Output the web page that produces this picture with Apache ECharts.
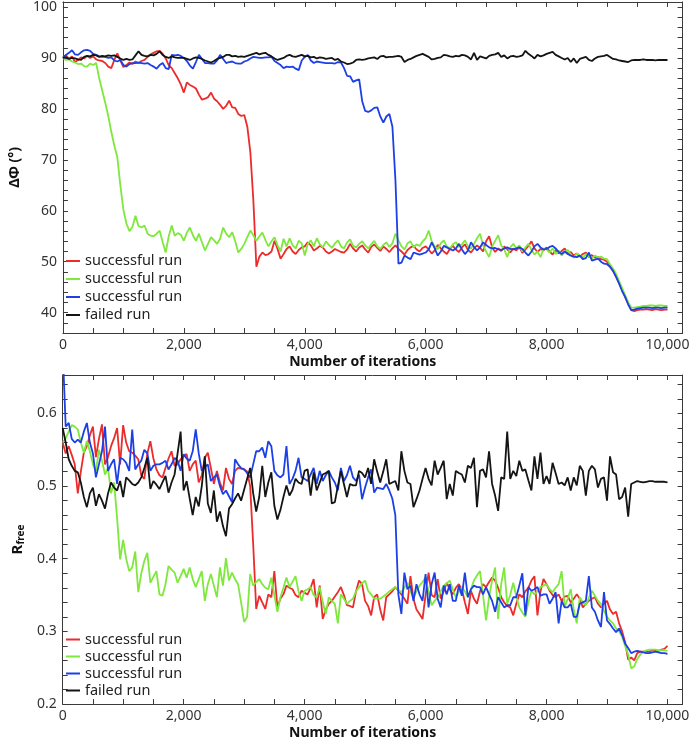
<!DOCTYPE html>
<html>
<head>
<meta charset="utf-8">
<script src="https://cdn.jsdelivr.net/npm/echarts@6/dist/echarts.min.js"></script>
<style>
    html, body { margin: 0; padding: 0; background: #fff; }
    #chart { width: 692px; height: 741px; }
</style>
</head>
<body>
<div id="chart"></div>
<script>
// iterations run 0..10000, one sample every 50 iterations
const STEP = 50;

// top panel: delta phi (deg)
const phiRed = [
    90.2,90.5,89.8,90.3,89.2,89.6,90.1,89.9,90.4,90.0,
    90.3,89.7,89.5,89.4,89.0,88.3,88.0,89.6,90.9,89.5,
    88.2,88.6,89.1,88.8,89.3,89.0,89.4,89.6,90.2,90.7,
    91.0,91.3,91.4,90.8,89.9,88.6,88.0,87.0,86.0,84.8,
    83.2,85.2,84.7,84.4,84.0,82.8,81.8,82.0,82.3,83.2,
    82.0,81.5,80.8,80.0,80.6,81.6,80.3,80.2,79.0,78.6,
    78.8,76.5,71.5,62.0,49.0,51.0,51.8,51.3,51.5,52.0,
    54.1,52.5,50.6,51.5,52.5,53.0,52.0,51.5,52.3,52.8,
    53.0,53.8,53.2,52.2,52.6,53.1,52.8,52.0,51.6,52.0,
    52.5,52.2,51.9,51.8,52.4,53.5,52.6,52.0,52.8,53.2,
    52.4,51.8,52.9,53.4,52.7,52.1,53.0,52.5,51.9,52.6,
    53.2,52.5,52.0,51.4,52.3,52.8,53.1,52.4,52.0,52.7,
    53.0,52.4,51.6,52.2,53.3,52.6,52.0,51.5,52.5,53.1,
    52.4,51.9,52.8,53.4,52.3,51.8,52.6,53.2,52.7,52.0,
    54.0,55.0,52.8,51.9,52.6,52.1,53.0,52.4,51.8,52.6,
    52.2,52.9,51.7,52.4,53.1,54.0,52.6,51.9,52.5,52.2,
    52.8,52.0,51.4,52.3,51.6,52.1,52.6,51.5,51.9,51.2,
    51.6,51.0,51.5,51.8,50.9,51.3,50.8,50.9,50.5,50.4,
    50.0,49.0,48.2,47.0,45.8,44.5,43.0,41.8,40.5,40.3,
    40.5,40.6,40.6,40.7,40.6,40.5,40.7,40.6,40.5,40.6,
    40.6
];
const phiGreen = [
    90.0,89.6,89.7,89.3,89.1,88.8,88.9,88.4,88.3,88.9,
    88.6,89.0,86.0,83.6,81.2,78.6,75.5,72.8,70.5,65.0,
    60.2,57.5,56.0,56.8,59.0,57.0,56.7,57.1,55.5,55.1,
    55.0,55.5,56.1,53.8,51.8,55.0,57.1,55.1,55.6,55.3,
    54.1,55.7,56.7,55.2,54.1,55.5,53.8,52.2,53.5,54.8,
    54.2,53.5,54.5,56.7,55.5,54.8,55.8,54.0,51.8,52.5,
    53.5,54.8,56.1,55.2,54.1,55.0,55.7,54.2,53.0,54.0,
    54.8,53.2,52.0,54.5,53.0,54.6,53.2,52.6,54.1,53.6,
    51.2,53.5,54.2,53.0,54.6,53.4,52.8,54.0,53.3,52.7,
    53.6,54.2,53.0,52.6,53.8,54.4,53.1,52.8,53.5,54.0,
    53.2,52.6,53.4,54.1,53.0,52.5,53.3,53.8,52.9,53.6,
    55.5,54.2,53.0,52.4,53.6,54.0,52.8,53.4,53.1,54.0,
    54.6,56.1,54.0,53.0,52.5,53.6,54.2,53.0,52.6,53.4,
    53.8,52.9,53.4,54.2,53.0,52.6,53.5,54.6,55.5,53.2,
    52.0,50.9,53.0,54.1,55.2,53.2,52.4,50.9,52.8,53.5,
    52.6,53.2,52.0,52.8,53.5,52.3,51.4,52.0,50.9,52.6,
    52.4,51.8,52.6,51.5,52.2,51.2,51.9,52.3,51.4,50.8,
    51.6,51.2,50.8,51.5,51.0,50.6,51.2,50.8,51.0,50.6,
    50.5,49.5,48.6,47.6,46.2,44.8,43.4,42.0,41.0,41.0,
    41.1,41.2,41.3,41.3,41.4,41.4,41.3,41.4,41.4,41.3,
    41.3
];
const phiBlue = [
    90.0,90.6,91.0,91.5,90.7,90.6,91.1,91.5,91.6,91.4,
    90.8,90.6,90.3,90.2,90.2,90.0,90.1,89.5,89.3,89.6,
    88.6,88.3,88.8,89.0,89.0,89.1,89.0,88.9,89.0,88.6,
    88.3,87.9,88.6,89.0,88.0,87.8,90.6,90.5,90.6,90.4,
    90.0,89.4,88.5,87.9,89.2,90.6,89.8,89.0,89.0,88.9,
    88.9,89.5,90.6,89.8,89.0,89.2,89.3,89.0,88.9,88.9,
    89.3,89.5,89.9,90.2,90.1,90.0,90.0,90.1,90.1,90.2,
    89.4,89.0,88.6,88.0,88.3,88.2,88.3,87.9,87.6,89.5,
    90.2,90.6,89.5,89.0,89.3,89.2,89.1,89.0,89.0,89.0,
    88.9,89.2,89.1,88.0,86.5,86.4,85.3,85.6,85.8,81.5,
    79.6,79.4,79.7,80.2,80.3,78.5,77.3,78.5,79.0,76.5,
    66.0,49.6,49.8,51.2,50.8,50.5,51.8,51.6,51.4,51.6,
    51.8,52.4,53.8,52.6,51.2,52.0,53.1,52.8,52.5,52.2,
    52.6,53.5,52.4,51.5,52.2,53.8,52.9,52.2,52.8,53.8,
    53.3,52.8,52.6,52.7,52.4,52.3,52.6,52.8,52.5,52.4,
    52.6,52.8,52.5,51.8,51.2,52.0,53.0,53.5,52.8,52.4,
    52.5,52.9,53.1,52.6,51.9,51.5,52.0,51.5,51.2,51.0,
    50.9,51.2,50.5,50.7,51.8,50.2,50.4,50.6,50.0,49.6,
    49.5,49.0,48.2,47.0,45.7,44.2,43.1,41.6,40.5,40.6,
    40.8,40.9,41.0,41.0,41.0,40.9,41.0,41.0,40.9,41.0,
    41.0
];
const phiBlack = [
    90.0,90.1,89.8,90.0,89.9,89.7,89.6,90.2,90.4,90.3,
    90.6,90.5,90.2,90.4,90.3,90.5,90.4,90.5,90.2,89.9,
    89.6,89.8,89.6,89.7,90.5,91.3,90.6,90.4,90.3,90.6,
    90.5,90.8,91.3,90.6,90.2,90.0,90.3,90.1,90.0,90.0,
    90.0,89.8,89.6,89.9,90.1,90.0,89.8,89.5,89.3,89.1,
    89.4,89.8,90.0,90.2,90.6,90.6,90.3,90.4,90.2,90.3,
    90.2,90.4,90.6,90.8,91.0,90.7,90.9,91.0,90.6,90.3,
    89.9,89.6,89.8,90.0,90.4,90.6,90.3,90.2,90.4,90.6,
    90.3,90.4,90.1,90.2,89.9,90.1,90.0,89.8,89.9,90.0,
    89.6,89.8,89.3,89.1,88.8,88.9,89.1,89.6,89.7,89.6,
    89.7,89.9,90.0,90.1,89.8,90.3,90.4,90.1,90.2,90.2,
    90.3,90.4,90.2,89.2,89.6,89.8,90.1,90.4,90.6,90.8,
    90.5,90.2,89.7,89.8,90.0,90.1,90.6,90.5,90.3,90.2,
    90.4,90.3,90.6,90.5,90.2,89.7,91.0,89.6,90.3,90.1,
    89.9,90.4,90.6,90.7,91.0,90.2,90.5,89.9,90.3,90.4,
    90.2,90.3,90.5,91.4,90.8,90.4,89.9,90.6,90.3,90.5,
    90.8,91.0,91.2,90.6,90.3,90.0,89.7,90.0,89.2,89.9,
    89.0,89.8,90.0,90.2,89.6,89.4,89.9,90.2,90.3,90.4,
    90.6,90.2,89.8,89.7,89.5,89.4,89.3,89.2,89.5,89.6,
    89.6,89.6,89.7,89.6,89.6,89.6,89.5,89.6,89.6,89.6,
    89.6
];

// bottom panel: Rfree
const rRed = [
    0.560,0.545,0.555,0.543,0.530,0.490,0.520,0.546,0.555,0.570,
    0.582,0.540,0.565,0.585,0.530,0.540,0.555,0.566,0.580,0.530,
    0.584,0.560,0.548,0.546,0.542,0.537,0.515,0.510,0.545,0.562,
    0.538,0.523,0.515,0.512,0.525,0.538,0.548,0.528,0.530,0.537,
    0.542,0.544,0.521,0.530,0.535,0.505,0.515,0.539,0.546,0.525,
    0.503,0.521,0.505,0.494,0.525,0.510,0.503,0.521,0.525,0.524,
    0.523,0.520,0.500,0.420,0.331,0.349,0.340,0.331,0.351,0.347,
    0.383,0.333,0.345,0.351,0.363,0.360,0.358,0.350,0.347,0.356,
    0.353,0.351,0.360,0.372,0.333,0.363,0.317,0.330,0.338,0.342,
    0.348,0.354,0.361,0.350,0.336,0.335,0.333,0.355,0.370,0.365,
    0.342,0.335,0.322,0.347,0.351,0.330,0.315,0.347,0.351,0.355,
    0.361,0.356,0.351,0.345,0.338,0.376,0.345,0.330,0.324,0.317,
    0.350,0.381,0.350,0.347,0.372,0.345,0.355,0.367,0.358,0.351,
    0.360,0.365,0.358,0.340,0.324,0.356,0.345,0.338,0.355,0.365,
    0.361,0.368,0.374,0.370,0.360,0.347,0.340,0.335,0.333,0.322,
    0.338,0.351,0.347,0.355,0.360,0.370,0.376,0.322,0.355,0.372,
    0.365,0.356,0.350,0.347,0.351,0.342,0.348,0.349,0.340,0.345,
    0.351,0.345,0.333,0.338,0.342,0.345,0.347,0.338,0.333,0.338,
    0.342,0.330,0.324,0.327,0.311,0.300,0.285,0.261,0.264,0.260,
    0.270,0.272,0.272,0.272,0.272,0.274,0.274,0.273,0.275,0.276,
    0.280
];
const rGreen = [
    0.560,0.566,0.575,0.584,0.582,0.578,0.560,0.546,0.562,0.548,
    0.530,0.521,0.550,0.535,0.516,0.525,0.490,0.505,0.456,0.399,
    0.426,0.400,0.383,0.388,0.410,0.354,0.380,0.397,0.408,0.367,
    0.375,0.383,0.351,0.349,0.365,0.390,0.385,0.381,0.367,0.376,
    0.386,0.374,0.388,0.372,0.361,0.372,0.383,0.342,0.365,0.379,
    0.363,0.347,0.388,0.363,0.401,0.370,0.381,0.372,0.365,0.340,
    0.313,0.320,0.379,0.363,0.368,0.372,0.365,0.360,0.358,0.374,
    0.350,0.327,0.347,0.360,0.374,0.361,0.368,0.376,0.355,0.342,
    0.356,0.358,0.361,0.350,0.347,0.361,0.340,0.324,0.347,0.342,
    0.338,0.311,0.351,0.345,0.338,0.342,0.345,0.355,0.361,0.366,
    0.370,0.356,0.351,0.345,0.345,0.345,0.348,0.351,0.355,0.358,
    0.361,0.357,0.354,0.360,0.367,0.355,0.347,0.355,0.363,0.368,
    0.374,0.355,0.336,0.342,0.347,0.355,0.363,0.366,0.370,0.358,
    0.347,0.354,0.361,0.355,0.347,0.358,0.370,0.377,0.383,0.350,
    0.315,0.347,0.370,0.388,0.317,0.365,0.388,0.338,0.350,0.367,
    0.348,0.333,0.326,0.320,0.340,0.356,0.351,0.355,0.361,0.363,
    0.365,0.358,0.354,0.360,0.365,0.383,0.333,0.345,0.358,0.330,
    0.311,0.347,0.340,0.336,0.346,0.356,0.349,0.342,0.338,0.328,
    0.320,0.315,0.311,0.304,0.300,0.293,0.280,0.268,0.249,0.252,
    0.262,0.268,0.272,0.274,0.275,0.275,0.275,0.274,0.274,0.274,
    0.273
];
const rBlue = [
    0.690,0.582,0.587,0.565,0.560,0.564,0.560,0.575,0.587,0.560,
    0.545,0.512,0.530,0.548,0.582,0.521,0.530,0.537,0.503,0.539,
    0.537,0.532,0.521,0.578,0.523,0.530,0.535,0.550,0.545,0.521,
    0.528,0.530,0.530,0.532,0.535,0.523,0.530,0.539,0.535,0.521,
    0.544,0.538,0.535,0.548,0.578,0.545,0.521,0.526,0.530,0.507,
    0.512,0.516,0.500,0.489,0.494,0.486,0.478,0.537,0.530,0.525,
    0.523,0.518,0.512,0.530,0.548,0.548,0.553,0.539,0.562,0.555,
    0.521,0.515,0.512,0.516,0.555,0.503,0.510,0.521,0.539,0.512,
    0.510,0.507,0.516,0.525,0.503,0.521,0.507,0.515,0.521,0.512,
    0.505,0.494,0.525,0.507,0.515,0.528,0.512,0.507,0.516,0.482,
    0.498,0.512,0.523,0.491,0.498,0.497,0.496,0.503,0.494,0.483,
    0.460,0.351,0.324,0.381,0.358,0.363,0.342,0.365,0.351,0.342,
    0.379,0.333,0.365,0.381,0.345,0.333,0.363,0.351,0.365,0.342,
    0.342,0.363,0.349,0.381,0.347,0.358,0.363,0.361,0.361,0.351,
    0.361,0.351,0.342,0.327,0.347,0.340,0.333,0.336,0.336,0.347,
    0.347,0.363,0.380,0.322,0.361,0.356,0.358,0.361,0.349,0.351,
    0.351,0.338,0.345,0.354,0.311,0.342,0.333,0.333,0.338,0.320,
    0.320,0.338,0.340,0.342,0.376,0.333,0.327,0.315,0.306,0.354,
    0.315,0.310,0.304,0.299,0.304,0.295,0.283,0.277,0.270,0.272,
    0.273,0.272,0.271,0.270,0.270,0.271,0.272,0.271,0.270,0.270,
    0.269
];
const rBlack = [
    0.580,0.560,0.537,0.528,0.521,0.519,0.505,0.485,0.471,0.490,
    0.498,0.473,0.489,0.480,0.469,0.490,0.505,0.498,0.494,0.507,
    0.485,0.512,0.508,0.503,0.501,0.505,0.512,0.525,0.539,0.496,
    0.507,0.502,0.496,0.505,0.514,0.491,0.505,0.516,0.545,0.575,
    0.494,0.507,0.483,0.460,0.485,0.472,0.500,0.541,0.476,0.463,
    0.494,0.451,0.465,0.445,0.431,0.469,0.475,0.483,0.490,0.480,
    0.495,0.510,0.525,0.490,0.465,0.485,0.528,0.485,0.505,0.519,
    0.473,0.454,0.467,0.485,0.501,0.487,0.495,0.510,0.505,0.503,
    0.521,0.523,0.487,0.519,0.494,0.505,0.516,0.518,0.521,0.476,
    0.478,0.500,0.521,0.503,0.485,0.503,0.501,0.501,0.521,0.518,
    0.512,0.525,0.503,0.537,0.520,0.505,0.520,0.537,0.503,0.505,
    0.507,0.494,0.548,0.521,0.505,0.503,0.471,0.482,0.494,0.510,
    0.525,0.510,0.501,0.535,0.516,0.525,0.535,0.482,0.503,0.487,
    0.521,0.518,0.516,0.505,0.528,0.525,0.539,0.471,0.521,0.523,
    0.512,0.548,0.503,0.487,0.466,0.512,0.510,0.575,0.510,0.521,
    0.514,0.535,0.521,0.523,0.508,0.494,0.541,0.510,0.546,0.503,
    0.514,0.503,0.532,0.518,0.503,0.505,0.501,0.512,0.494,0.512,
    0.501,0.528,0.521,0.487,0.521,0.528,0.523,0.498,0.510,0.512,
    0.480,0.541,0.519,0.516,0.482,0.485,0.498,0.458,0.503,0.505,
    0.507,0.506,0.505,0.506,0.507,0.507,0.506,0.506,0.506,0.506,
    0.505
];

// ticks and labels
const iterLabels = [0, 2000, 4000, 6000, 8000, 10000];
const iterTicks = [0,500,1000,1500,2000,2500,3000,3500,4000,4500,5000,5500,6000,6500,7000,7500,8000,8500,9000,9500,10000];
const phiLabels = [40, 50, 60, 70, 80, 90, 100];
const phiTicks = [36,38,40,42,44,46,48,50,52,54,56,58,60,62,64,66,68,70,72,74,76,78,80,82,84,86,88,90,92,94,96,98,100];
const rLabels = [0.2, 0.3, 0.4, 0.5, 0.6];
const rTicks = [0.2,0.22,0.24,0.26,0.28,0.3,0.32,0.34,0.36,0.38,0.4,0.42,0.44,0.46,0.48,0.5,0.52,0.54,0.56,0.58,0.6,0.62,0.64];

const COLORS = {
    red: '#ec2b2b',
    green: '#7ee83c',
    blue: '#1c40e6',
    black: '#141414'
};

const FONT = '"Noto Sans", "Open Sans", sans-serif';
const AXIS_COLOR = '#3a3a3a';

const toPairs = values => values.map((v, i) => [i * STEP, v]);

const fmtThousands = v => String(v).replace(/\B(?=(\d{3})+(?!\d))/g, ',');

const makeX = (gridIndex, position, withLabels, name) => ({
    type: 'value',
    gridIndex: gridIndex,
    position: position,
    min: 0,
    max: 10250,
    name: name || '',
    nameLocation: 'middle',
    nameGap: 22,
    // pad right so the title centres over 0..10000 like the original
    nameTextStyle: { fontFamily: FONT, fontSize: 14, fontWeight: 'bold', color: '#111', padding: [0, 20, 0, 0] },
    axisLine: { show: true, onZero: false, lineStyle: { color: AXIS_COLOR, width: 1 } },
    axisTick: { show: true, inside: true, length: 5, customValues: iterTicks, lineStyle: { color: AXIS_COLOR } },
    axisLabel: {
        show: withLabels,
        customValues: iterLabels,
        margin: 5,
        fontFamily: FONT,
        fontSize: 14,
        color: '#333',
        formatter: fmtThousands
    },
    splitLine: { show: false }
});

const makeY = (gridIndex, position, withLabels, min, max, labels, ticks, name, nameStyle, gap) => ({
    type: 'value',
    gridIndex: gridIndex,
    position: position,
    min: min,
    max: max,
    name: name || '',
    nameLocation: 'middle',
    nameRotate: 90,
    nameGap: gap || 30,
    nameTextStyle: nameStyle || {},
    axisLine: { show: true, onZero: false, lineStyle: { color: AXIS_COLOR, width: 1 } },
    axisTick: { show: true, inside: true, length: 5, customValues: ticks, lineStyle: { color: AXIS_COLOR } },
    axisLabel: {
        show: withLabels,
        customValues: labels,
        margin: 6,
        fontFamily: FONT,
        fontSize: 14,
        color: '#333'
    },
    splitLine: { show: false }
});

const lineSeries = (name, color, data, xi, yi) => ({
    name: name,
    type: 'line',
    xAxisIndex: xi,
    yAxisIndex: yi,
    data: toPairs(data),
    showSymbol: false,
    symbol: 'none',
    clip: true,
    lineStyle: { color: color, width: 1.8 },
    itemStyle: { color: color },
    animation: false
});

const legendBase = {
    orient: 'vertical',
    left: 66,
    padding: 0,
    itemGap: 0,
    itemWidth: 14,
    itemHeight: 2,
    icon: 'rect',
    formatter: name => name.split('#')[0],
    textStyle: { fontFamily: FONT, fontSize: 14.5, color: '#222' }
};

const chart = echarts.init(document.getElementById('chart'));

const option = {
    animation: false,
    backgroundColor: '#fff',
    grid: [
        { left: 47, top: 1, width: 639, height: 332 },
        { left: 47, top: 375, width: 639, height: 333 }
    ],
    legend: [
        Object.assign({}, legendBase, {
            top: 252,
            data: ['successful run#t1', 'successful run#t2', 'successful run#t3', 'failed run#t4'],
            textStyle: Object.assign({}, legendBase.textStyle, { lineHeight: 18 })
        }),
        Object.assign({}, legendBase, {
            top: 631,
            data: ['successful run#b1', 'successful run#b2', 'successful run#b3', 'failed run#b4'],
            textStyle: Object.assign({}, legendBase.textStyle, { lineHeight: 17 })
        })
    ],
    xAxis: [
        makeX(0, 'bottom', true, 'Number of iterations'),
        makeX(0, 'top', false),
        makeX(1, 'bottom', true, 'Number of iterations'),
        makeX(1, 'top', false)
    ],
    yAxis: [
        makeY(0, 'left', true, 36, 101, phiLabels, phiTicks, 'ΔΦ (°)',
            { fontFamily: FONT, fontSize: 14, fontWeight: 'bold', color: '#111' }, 39),
        makeY(0, 'right', false, 36, 101, phiLabels, phiTicks),
        makeY(1, 'left', true, 0.2, 0.653, rLabels, rTicks, '{r|R}{s|free}', {
            rich: {
                r: { fontFamily: FONT, fontSize: 15, fontWeight: 'bold', color: '#111', lineHeight: 16, verticalAlign: 'top' },
                s: { fontFamily: FONT, fontSize: 10, fontWeight: 'bold', color: '#111', lineHeight: 10, padding: [8, 0, 0, 0], verticalAlign: 'bottom' }
            }
        }, 33),
        makeY(1, 'right', false, 0.2, 0.653, rLabels, rTicks)
    ],
    series: [
        lineSeries('successful run#t1', COLORS.red, phiRed, 0, 0),
        lineSeries('successful run#t2', COLORS.green, phiGreen, 0, 0),
        lineSeries('successful run#t3', COLORS.blue, phiBlue, 0, 0),
        lineSeries('failed run#t4', COLORS.black, phiBlack, 0, 0),
        lineSeries('successful run#b1', COLORS.red, rRed, 2, 2),
        lineSeries('successful run#b2', COLORS.green, rGreen, 2, 2),
        lineSeries('successful run#b3', COLORS.blue, rBlue, 2, 2),
        lineSeries('failed run#b4', COLORS.black, rBlack, 2, 2)
    ]
};

chart.setOption(option);
</script>
</body>
</html>
